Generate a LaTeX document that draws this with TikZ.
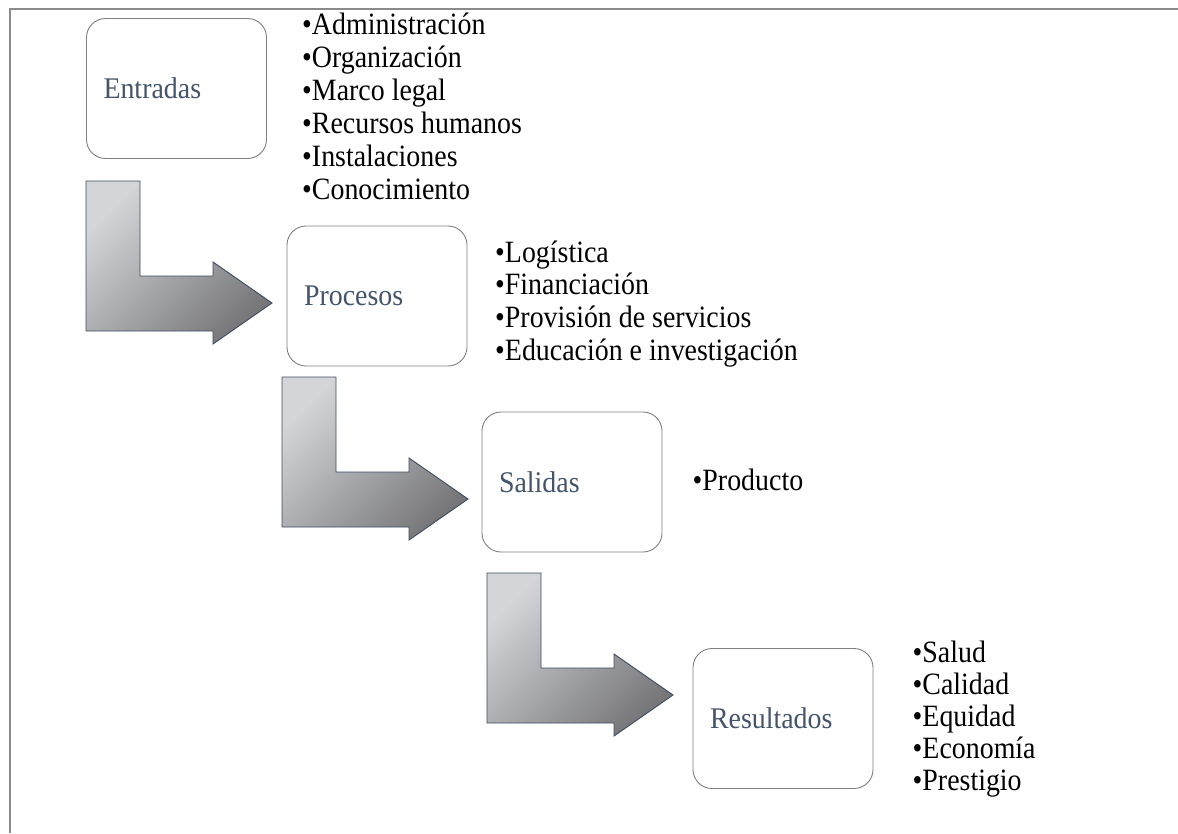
\documentclass[tikz,border=0pt]{standalone}
\usepackage{fontspec}
\setmainfont{Liberation Serif}
\newfontfamily\listfont[FakeStretch=0.9]{Liberation Serif}
\newfontfamily\labelfont[FakeStretch=0.93]{Liberation Serif}
\definecolor{labelc}{HTML}{44546A}
\definecolor{boxline}{HTML}{7F7F7F}
\definecolor{frameline}{HTML}{8A8A8A}
\definecolor{arrline}{HTML}{3E4C61}
\definecolor{arrlight}{HTML}{D3D5D9}
\definecolor{arrdark}{HTML}{77777A}
\begin{document}
\begin{tikzpicture}[x=1pt,y=-1pt,
  frame/.style={draw=frameline,line width=1.6pt},
  stagebox/.style={draw=boxline,line width=0.9pt,rounded corners=19pt,
    minimum width=180pt,minimum height=140pt,text width=146pt,inner xsep=17pt,
    align=left,text=labelc,font=\labelfont\fontsize{30}{36}\selectfont},
  item/.style={anchor=base west,inner sep=0pt,text=black,font=\listfont\fontsize{31}{33}\selectfont},
  bendarrow/.style={draw=arrline,line width=0.9pt,top color=arrlight,bottom color=arrdark,shading angle=45}
]
\useasboundingbox (0,0) rectangle (1178,833);
\draw[frame] (10,833) -- (10,9) -- (1178,9);

% stage boxes
\node[stagebox] (entradas) at (176.5,88.5) {Entradas};
\node[stagebox] (procesos) at (377,296) {Procesos};
\node[stagebox] (salidas) at (572,482) {Salidas};
\node[stagebox] (resultados) at (783,718.5) {Resultados};

% bent block arrows
\foreach \X/\Y in {86/181, 282/377, 487/573}{
  \path[bendarrow,shift={(\X,\Y)}] (0,0) -- (54,0) -- (54,95) -- (127,95) -- (127,81)
    -- (186,122) -- (127,163) -- (127,150) -- (0,150) -- cycle;
}

% lists
\foreach \t [count=\i from 0] in {Administración,Organización,Marco legal,Recursos humanos,Instalaciones,Conocimiento}
  \node[item] (ent-\i) at (302,34+33*\i) {•\t};
\foreach \t [count=\i from 0] in {Logística,Financiación,Provisión de servicios,Educación e investigación}
  \node[item] (pro-\i) at (495,262+32.7*\i) {•\t};
\node[item] (sal-0) at (692.5,490) {•Producto};
\foreach \t [count=\i from 0] in {Salud,Calidad,Equidad,Economía,Prestigio}
  \node[item] (res-\i) at (912.5,662+32*\i) {•\t};
\end{tikzpicture}
\end{document}
